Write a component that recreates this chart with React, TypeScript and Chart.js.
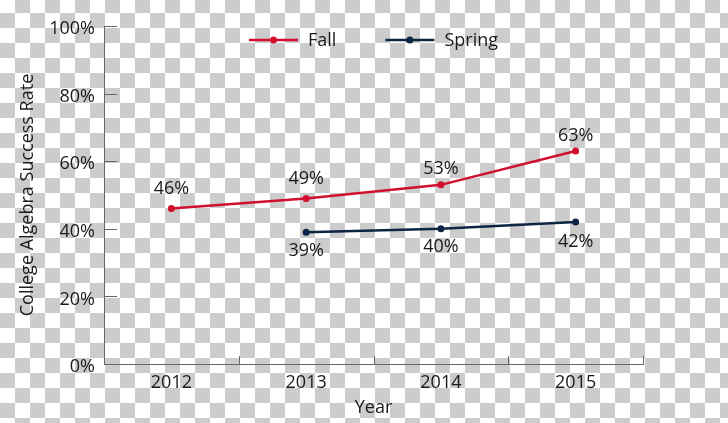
import React, { useEffect, useRef } from "react";
import { Chart, registerables } from "chart.js";

Chart.register(...registerables);

const years = ["2012", "2013", "2014", "2015"];
const fallRates = [46, 49, 53, 63];
const springRates: (number | null)[] = [null, 39, 40, 42];
const yTickValues = [0, 20, 40, 60, 80, 100];

// label distance from point (style only)
const fallLabelGap = [20, 20, 16, 15];
const springLabelGap = [0, 19, 18, 20];

const FONT = "'Open Sans', sans-serif";
const TEXT = "#1a1a1a";
const AXIS = "#666666";
const RED = "#d0102c";
const NAVY = "#0d2444";

const axisTicksPlugin = {
  id: "inwardTicks",
  afterDraw(chart: any) {
    const { ctx, chartArea, scales } = chart;
    const x = scales.x;
    const y = scales.y;
    ctx.save();
    ctx.strokeStyle = AXIS;
    ctx.lineWidth = 1;
    y.ticks.forEach((t: any) => {
      const py = Math.round(y.getPixelForValue(t.value)) + 0.5;
      ctx.beginPath();
      ctx.moveTo(chartArea.left, py);
      ctx.lineTo(chartArea.left + 13, py);
      ctx.stroke();
    });
    const half = (x.getPixelForValue(1) - x.getPixelForValue(0)) / 2;
    const bounds: number[] = [];
    for (let i = 0; i < years.length; i++) bounds.push(x.getPixelForValue(i) - half);
    bounds.push(x.getPixelForValue(years.length - 1) + half);
    bounds.forEach((bx) => {
      const px = Math.round(bx) + 0.5;
      ctx.beginPath();
      ctx.moveTo(px, chartArea.bottom);
      ctx.lineTo(px, chartArea.bottom - 8);
      ctx.stroke();
    });
    ctx.restore();
  },
};

const dataLabelsPlugin = {
  id: "pointLabels",
  afterDatasetsDraw(chart: any) {
    const { ctx } = chart;
    ctx.save();
    ctx.font = `18px ${FONT}`;
    ctx.fillStyle = TEXT;
    ctx.textAlign = "center";
    ctx.textBaseline = "middle";
    chart.data.datasets.forEach((ds: any, di: number) => {
      const meta = chart.getDatasetMeta(di);
      const dir = ds.labelSide === "below" ? 1 : -1;
      meta.data.forEach((el: any, i: number) => {
        const v = ds.data[i];
        if (v === null || v === undefined) return;
        ctx.fillText(`${v}%`, el.x, el.y + dir * ds.labelGap[i]);
      });
    });
    ctx.restore();
  },
};

const legendPlugin = {
  id: "customLegend",
  afterDraw(chart: any) {
    const { ctx, chartArea } = chart;
    ctx.save();
    ctx.font = `18px ${FONT}`;
    const sample = 49;
    const gapText = 10;
    const gapItem = 49;
    const items = chart.data.datasets.map((ds: any) => ({
      label: ds.label,
      color: ds.borderColor,
      w: ctx.measureText(ds.label).width,
    }));
    let total = 0;
    items.forEach((it: any, i: number) => {
      total += sample + gapText + it.w + (i < items.length - 1 ? gapItem : 0);
    });
    let cx = (chartArea.left + chartArea.right) / 2 - total / 2;
    const cy = chartArea.top + 14;
    items.forEach((it: any) => {
      ctx.strokeStyle = it.color;
      ctx.lineWidth = 2.5;
      ctx.beginPath();
      ctx.moveTo(cx, cy);
      ctx.lineTo(cx + sample, cy);
      ctx.stroke();
      ctx.fillStyle = it.color;
      ctx.beginPath();
      ctx.arc(cx + sample / 2, cy, 3.5, 0, Math.PI * 2);
      ctx.fill();
      ctx.fillStyle = TEXT;
      ctx.textAlign = "left";
      ctx.textBaseline = "middle";
      ctx.fillText(it.label, cx + sample + gapText, cy + 1);
      cx += sample + gapText + it.w + gapItem;
    });
    ctx.restore();
  },
};

export default function App() {
  const canvasRef = useRef<HTMLCanvasElement | null>(null);

  useEffect(() => {
    if (!canvasRef.current) return;
    const chart = new Chart(canvasRef.current, {
      type: "line",
      data: {
        labels: years,
        datasets: [
          {
            label: "Fall",
            data: fallRates,
            borderColor: RED,
            backgroundColor: RED,
            borderWidth: 2.5,
            pointRadius: 3.5,
            pointBackgroundColor: RED,
            pointBorderWidth: 0,
            labelSide: "above",
            labelGap: fallLabelGap,
          } as any,
          {
            label: "Spring",
            data: springRates,
            borderColor: NAVY,
            backgroundColor: NAVY,
            borderWidth: 2.5,
            pointRadius: 3.5,
            pointBackgroundColor: NAVY,
            pointBorderWidth: 0,
            labelSide: "below",
            labelGap: springLabelGap,
          } as any,
        ],
      },
      options: {
        responsive: false,
        animation: false,
        layout: { padding: { top: 26, right: 85, bottom: 0, left: 0 } },
        plugins: {
          legend: { display: false },
          tooltip: { enabled: false },
        },
        scales: {
          x: {
            offset: true,
            grid: { display: false, drawTicks: false },
            border: { display: true, color: AXIS, width: 1 },
            ticks: { color: TEXT, font: { family: FONT, size: 18 }, padding: 8 },
            title: {
              display: true,
              text: "Year",
              color: TEXT,
              font: { family: FONT, size: 18 },
              padding: { top: 2, bottom: 4 },
            },
            afterFit: (s: any) => {
              s.height = 59;
            },
          },
          y: {
            min: 0,
            max: 100,
            afterBuildTicks: (s: any) => {
              s.ticks = yTickValues.map((v) => ({ value: v }));
            },
            grid: { display: false, drawTicks: false },
            border: { display: true, color: AXIS, width: 1 },
            ticks: {
              color: TEXT,
              font: { family: FONT, size: 18 },
              padding: 9,
              labelOffset: 3,
              callback: (v: any) => `${v}%`,
            },
            title: {
              display: true,
              text: "College Algebra Success Rate",
              color: TEXT,
              font: { family: FONT, size: 18 },
              padding: { top: 17, bottom: 0 },
            },
            afterFit: (s: any) => {
              s.width = 104;
            },
          },
        },
      },
      plugins: [axisTicksPlugin, dataLabelsPlugin, legendPlugin],
    });
    return () => chart.destroy();
  }, []);

  return (
    <div
      style={{
        position: "fixed",
        left: 0,
        top: 0,
        width: 728,
        height: 423,
        backgroundImage: "repeating-conic-gradient(#cccccc 0% 25%, #ffffff 0% 50%)",
        backgroundSize: "30px 30px",
        backgroundPosition: "0px -2px",
      }}
    >
      <canvas ref={canvasRef} width={728} height={423} style={{ display: "block" }} />
    </div>
  );
}
